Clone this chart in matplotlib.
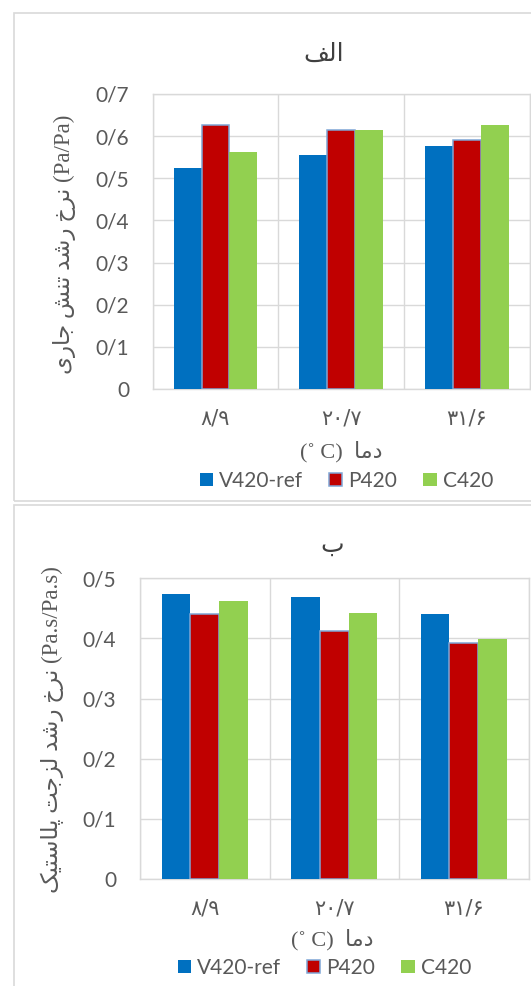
import matplotlib
matplotlib.use("Agg")
import matplotlib.pyplot as plt
from matplotlib.patches import Rectangle, Patch
from matplotlib.ticker import FuncFormatter
import numpy as np

# ---- data ----
categories = ["\u06F8/\u06F9", "\u06F2\u06F0/\u06F7", "\u06F3\u06F1/\u06F6"]  # 8.9, 20.7, 31.6
series_names = ["V420-ref", "P420", "C420"]

top_v420 = [0.524, 0.555, 0.576]
top_p420 = [0.627, 0.615, 0.591]
top_c420 = [0.563, 0.614, 0.626]

bot_v420 = [0.474, 0.469, 0.440]
bot_p420 = [0.441, 0.413, 0.392]
bot_c420 = [0.462, 0.442, 0.399]

top_yticks = [0, 0.1, 0.2, 0.3, 0.4, 0.5, 0.6, 0.7]
bot_yticks = [0, 0.1, 0.2, 0.3, 0.4, 0.5]

# Persian text in visual (left-to-right) order with presentation forms
title_top = "\uFED2\uFEDF\uFE8D"            # الف
title_bot = "\uFE8F"                        # ب
w_nerkh = "\uFEA5\uFEAE\uFEE7"              # نرخ
w_roshd = "\uFEAA\uFEB7\uFEAD"              # رشد
w_tanesh = "\uFEB6\uFEE8\uFE97"             # تنش
w_jari = "\uFEEF\uFEAD\uFE8E\uFE9F"         # جاری
w_lozjat = "\uFE96\uFE9F\uFEB0\uFEDF"       # لزجت
w_plastic = "\uFB8F\uFEF4\uFE98\uFEB3\uFE8E\uFEE0\uFB58"  # پلاستیک
w_dama = "\uFE8E\uFEE3\uFEA9"               # دما

ylabel_top = f"{w_jari} {w_tanesh} {w_roshd} {w_nerkh} (Pa/Pa)"
ylabel_bot = f"{w_plastic} {w_lozjat} {w_roshd} {w_nerkh} (Pa.s/Pa.s)"
xlabel_txt = f"(\u02DA C)  {w_dama}"

colors = ["#0070C0", "#C00000", "#92D050"]
grid_c = "#D9D9D9"
txt_c = "#595959"

W, H = 531, 986
fig = plt.figure(figsize=(W / 100, H / 100), dpi=100)

LAT = ["Lato", "DejaVu Sans"]
FA = ["Liberation Serif", "DejaVu Sans"]

def px_axes(l, t, r, b):
    return fig.add_axes([l / W, 1 - b / H, (r - l) / W, (b - t) / H])

def draw(ax, vals, yticks):
    x = np.arange(len(categories))
    bw = 1 / 4.5
    for i, (v, c) in enumerate(zip(vals, colors)):
        kw = dict(color=c, zorder=3)
        if i == 1:
            kw.update(edgecolor="#7EA6D6", linewidth=1.1)
        else:
            kw.update(linewidth=0)
        ax.bar(x + (i - 1) * bw, v, bw, **kw)
    ax.set_xlim(-0.5, 2.5)
    ax.set_ylim(0, yticks[-1])
    ax.set_yticks(yticks)
    ax.yaxis.set_major_formatter(FuncFormatter(
        lambda v, p: "0" if abs(v) < 1e-9 else f"{v:.1f}".replace(".", "/")))
    ax.set_xticks(x)
    ax.set_xticklabels(categories, fontfamily=["DejaVu Sans"], fontsize=15, color=txt_c)
    ax.set_xticks([-0.5, 0.5, 1.5, 2.5], minor=True)
    ax.grid(True, which="major", axis="y", color=grid_c, lw=1.0, zorder=0)
    ax.grid(True, which="minor", axis="x", color=grid_c, lw=1.0, zorder=0)
    ax.tick_params(axis="both", which="both", length=0)
    ax.tick_params(axis="y", pad=17, labelsize=15, labelcolor=txt_c)
    ax.tick_params(axis="x", pad=14)
    for lab in ax.get_yticklabels():
        lab.set_fontfamily(LAT)
    for s in ax.spines.values():
        s.set_color(grid_c)
        s.set_linewidth(1.0)
    ax.set_axisbelow(True)

# outer chart borders
fig.patches.append(Rectangle((13.5 / W, 1 - 501.5 / H), (540 - 13.5) / W, (501.5 - 13.5) / H,
                             transform=fig.transFigure, fill=False, ec=grid_c, lw=1.2))
fig.patches.append(Rectangle((13.5 / W, -0.05), (540 - 13.5) / W, 1 - 505.5 / H + 0.05,
                             transform=fig.transFigure, fill=False, ec=grid_c, lw=1.2))

ax1 = px_axes(152.7, 94, 529.5, 389)
draw(ax1, [top_v420, top_p420, top_c420], top_yticks)
ax2 = px_axes(140, 578.3, 528.5, 879)
draw(ax2, [bot_v420, bot_p420, bot_c420], bot_yticks)

# titles
fig.text(324 / W, 1 - 54 / H, title_top, ha="center", va="center", fontsize=18,
         family=["DejaVu Sans"], color="#404040")
fig.text(332 / W, 1 - 545 / H, title_bot, ha="center", va="center", fontsize=18,
         family=["DejaVu Sans"], color="#404040")

# y labels
fig.text(64 / W, 1 - 244 / H, ylabel_top, rotation=90, ha="center", va="center",
         fontsize=16.5, family=FA, color=txt_c)
fig.text(52 / W, 1 - 730 / H, ylabel_bot, rotation=90, ha="center", va="center",
         fontsize=16.5, family=FA, color=txt_c)

# x labels
fig.text(341 / W, 1 - 452 / H, xlabel_txt, ha="center", va="center", fontsize=16,
         family=FA, color=txt_c)
fig.text(332 / W, 1 - 940 / H, xlabel_txt, ha="center", va="center", fontsize=16,
         family=FA, color=txt_c)

# legends
def make_handles():
    hs = []
    for i, (n, c) in enumerate(zip(series_names, colors)):
        if i == 1:
            hs.append(Patch(facecolor=c, edgecolor="#7EA6D6", linewidth=1.1, label=n))
        else:
            hs.append(Patch(facecolor=c, edgecolor=c, linewidth=0, label=n))
    return hs

for cx, cy in [(346.5, 481), (324.5, 968)]:
    leg = fig.legend(handles=make_handles(), loc="center", ncol=3,
                     bbox_to_anchor=(cx / W, 1 - cy / H), frameon=False,
                     prop={"family": LAT, "size": 15},
                     handlelength=0.63, handleheight=0.63, handletextpad=0.3,
                     columnspacing=1.25, borderpad=0, borderaxespad=0)
    for t in leg.get_texts():
        t.set_color(txt_c)

fig.savefig("out.png", dpi=100)
